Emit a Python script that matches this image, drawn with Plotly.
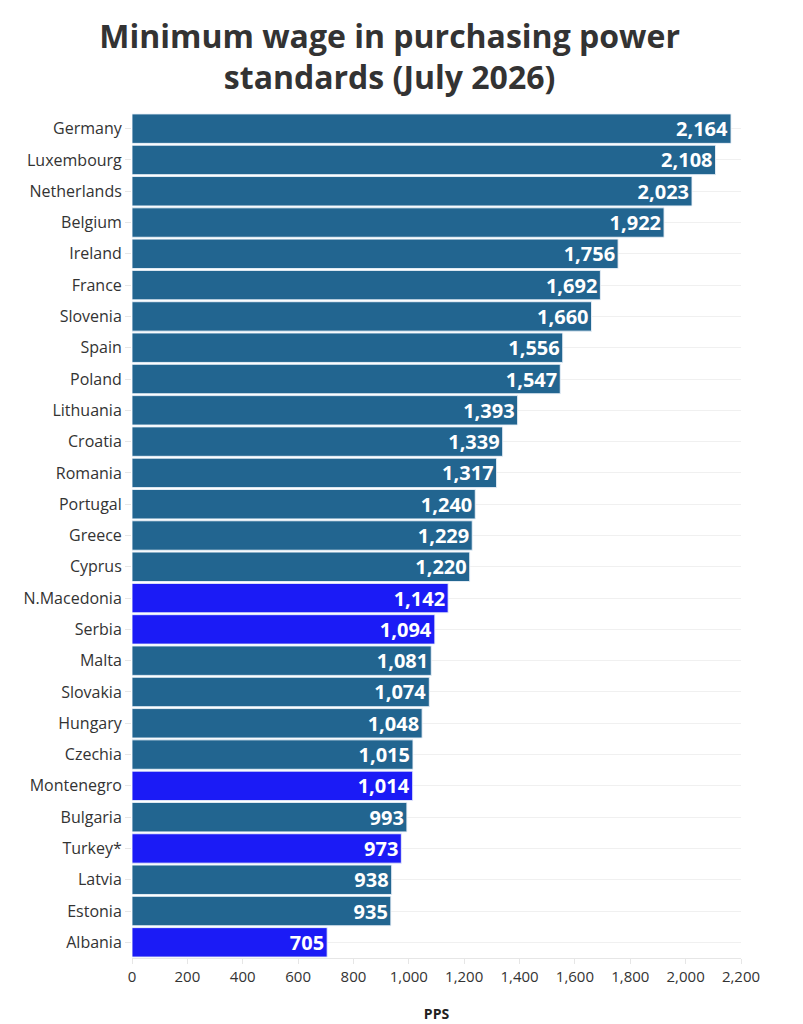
import plotly.graph_objects as go

countries = [
    "Germany", "Luxembourg", "Netherlands", "Belgium", "Ireland", "France",
    "Slovenia", "Spain", "Poland", "Lithuania", "Croatia", "Romania",
    "Portugal", "Greece", "Cyprus", "N.Macedonia", "Serbia", "Malta",
    "Slovakia", "Hungary", "Czechia", "Montenegro", "Bulgaria", "Turkey*",
    "Latvia", "Estonia", "Albania",
]
pps = [
    2164, 2108, 2023, 1922, 1756, 1692, 1660, 1556, 1547, 1393, 1339, 1317,
    1240, 1229, 1220, 1142, 1094, 1081, 1074, 1048, 1015, 1014, 993, 973,
    938, 935, 705,
]
non_eu = ["N.Macedonia", "Serbia", "Montenegro", "Turkey*", "Albania"]

EU_COLOR = "#226590"
NON_EU_COLOR = "#1b1bf6"
colors = [NON_EU_COLOR if c in non_eu else EU_COLOR for c in countries]

fig = go.Figure(go.Bar(
    x=pps,
    y=countries,
    orientation="h",
    marker=dict(color=colors, line=dict(color="rgba(235,242,250,0.9)", width=1)),
    text=[f"{v:,}" for v in pps],
    textposition="inside",
    insidetextanchor="end",
    constraintext="none",
    textfont=dict(family="Open Sans", size=20, color="white", weight="bold"),
    cliponaxis=False,
    hovertemplate="%{y}: %{x:,}<extra></extra>",
))

# the page body adds an 8px offset, so the figure is a bit smaller
fig.update_layout(
    width=795,
    height=1016,
    paper_bgcolor="white",
    plot_bgcolor="white",
    font=dict(family="Open Sans", color="#333333", size=14),
    title=dict(
        text="Minimum wage in purchasing power<br>standards (July 2026)",
        font=dict(family="Open Sans", size=32, color="#333333", weight="bold"),
        x=0.48,
        xanchor="center",
        y=0.961,
        yanchor="middle",
    ),
    bargap=0.06,
    margin=dict(l=124, r=62, t=105, b=66),
    showlegend=False,
)

fig.update_xaxes(
    range=[0, 2200],
    dtick=200,
    tickformat=",",
    showgrid=False,
    ticks="outside",
    ticklen=5,
    tickcolor="#e6e6e6",
    showline=True,
    linecolor="#e6e6e6",
    tickfont=dict(size=15, color="#333333"),
    title=dict(text="PPS", font=dict(size=14, color="#222222", weight="bold"), standoff=24),
    zeroline=False,
    automargin=False,
)
fig.update_yaxes(
    autorange="reversed",
    showgrid=True,
    gridcolor="#f0f0f0",
    ticks="outside",
    ticklen=6,
    tickcolor="#e6e6e6",
    tickfont=dict(size=16, color="#333333"),
)

fig.write_html("out.html")
